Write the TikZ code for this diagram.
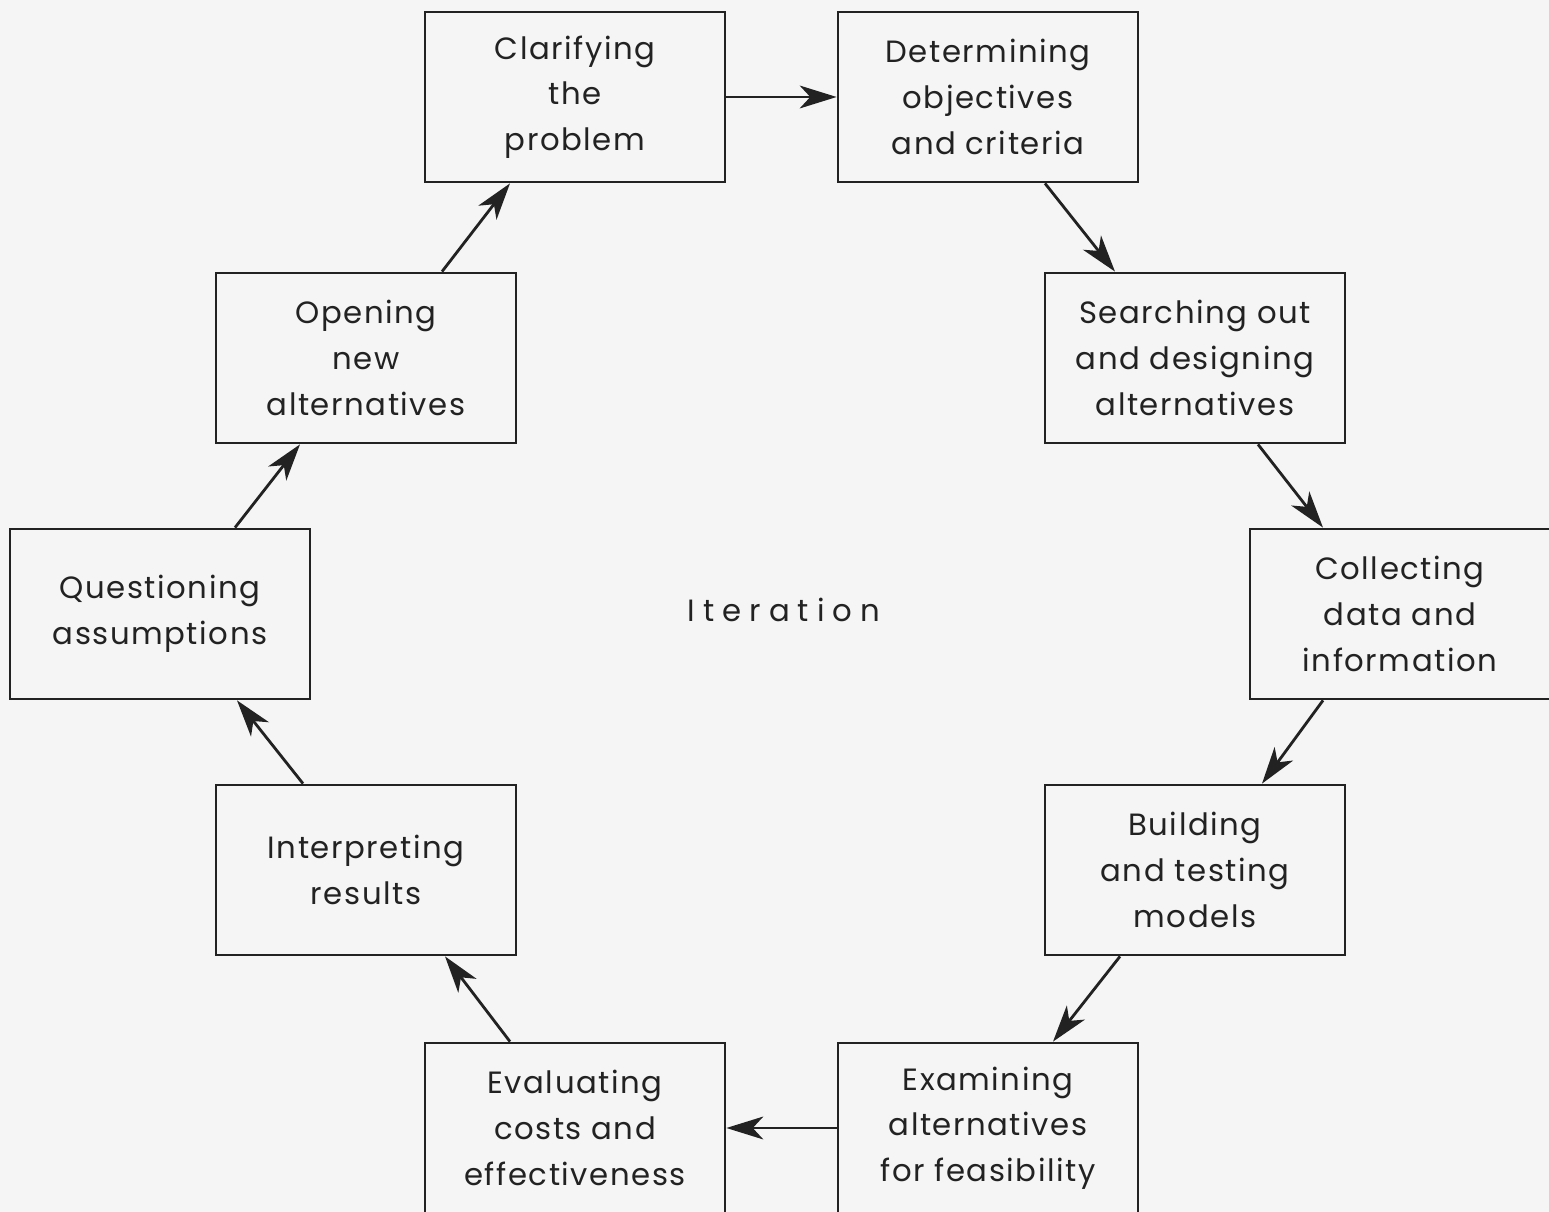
\documentclass[tikz,border=0pt]{standalone}
\usepackage{fontspec}
\setmainfont{Poppins}
\usepackage{tikz}
\usetikzlibrary{arrows.meta,calc}
\definecolor{ink}{HTML}{222222}
\tikzset{
	stage/.style={draw=ink, line width=1.6pt, text=ink, align=center,
		minimum width=6cm, minimum height=3.4cm, inner sep=0pt,
		font=\fontsize{17.5}{26}\selectfont\addfontfeature{LetterSpace=5}},
	flow/.style={draw=ink, line width=1.6pt,
		-{Stealth[length=21pt,width=13pt,inset=6pt]}}
}

\begin{document}
\begin{tikzpicture}[x=0.02cm,y=-0.02cm]
	\fill[black!4] (0,0) rectangle (1549,1212);
	\useasboundingbox (0,0) rectangle (1549,1212);
	% the ten steps, clockwise
	\node[stage] (clar)   at (575,97)   {Clarifying\\the\\problem};
	\node[stage] (det)    at (988,97)   {Determining\\objectives\\and criteria};
	\node[stage] (srch)   at (1195,358) {Searching out\\and designing\\alternatives};
	\node[stage] (coll)   at (1400,614) {Collecting\\data and\\information};
	\node[stage] (build)  at (1195,870) {Building\\and testing\\models};
	\node[stage] (exam)   at (988,1128) {Examining\\alternatives\\for feasibility};
	\node[stage] (eval)   at (575,1128) {Evaluating\\costs and\\effectiveness};
	\node[stage] (interp) at (366,870)  {Interpreting\\results};
	\node[stage] (quest)  at (160,614)  {Questioning\\assumptions};
	\node[stage] (open)   at (366,358)  {Opening\\new\\alternatives};
	\node[text=ink, font=\fontsize{17.5}{26}\selectfont\addfontfeature{LetterSpace=26}] (iter) at (784,610) {Iteration};
	
	\draw[flow] (clar.east) -- (det.west);
	\draw[flow] (exam.west) -- (eval.east);
	\foreach \a/\sa/\da/\b/\sb/\db in {det/south/57/srch/north/-80,
		srch/south/63/coll/north/-77, coll/south/-77/build/north/67,
		build/south/-75/exam/north/65, eval/north/-65/interp/south/79,
		interp/north/-63/quest/south/77, quest/north/75/open/south/-66,
		open/north/76/clar/south/-65} {
		\draw[flow] ($(\a.\sa)+(\da,0)$) -- ($(\b.\sb)+(\db,0)$);
	}
\end{tikzpicture}
\end{document}
